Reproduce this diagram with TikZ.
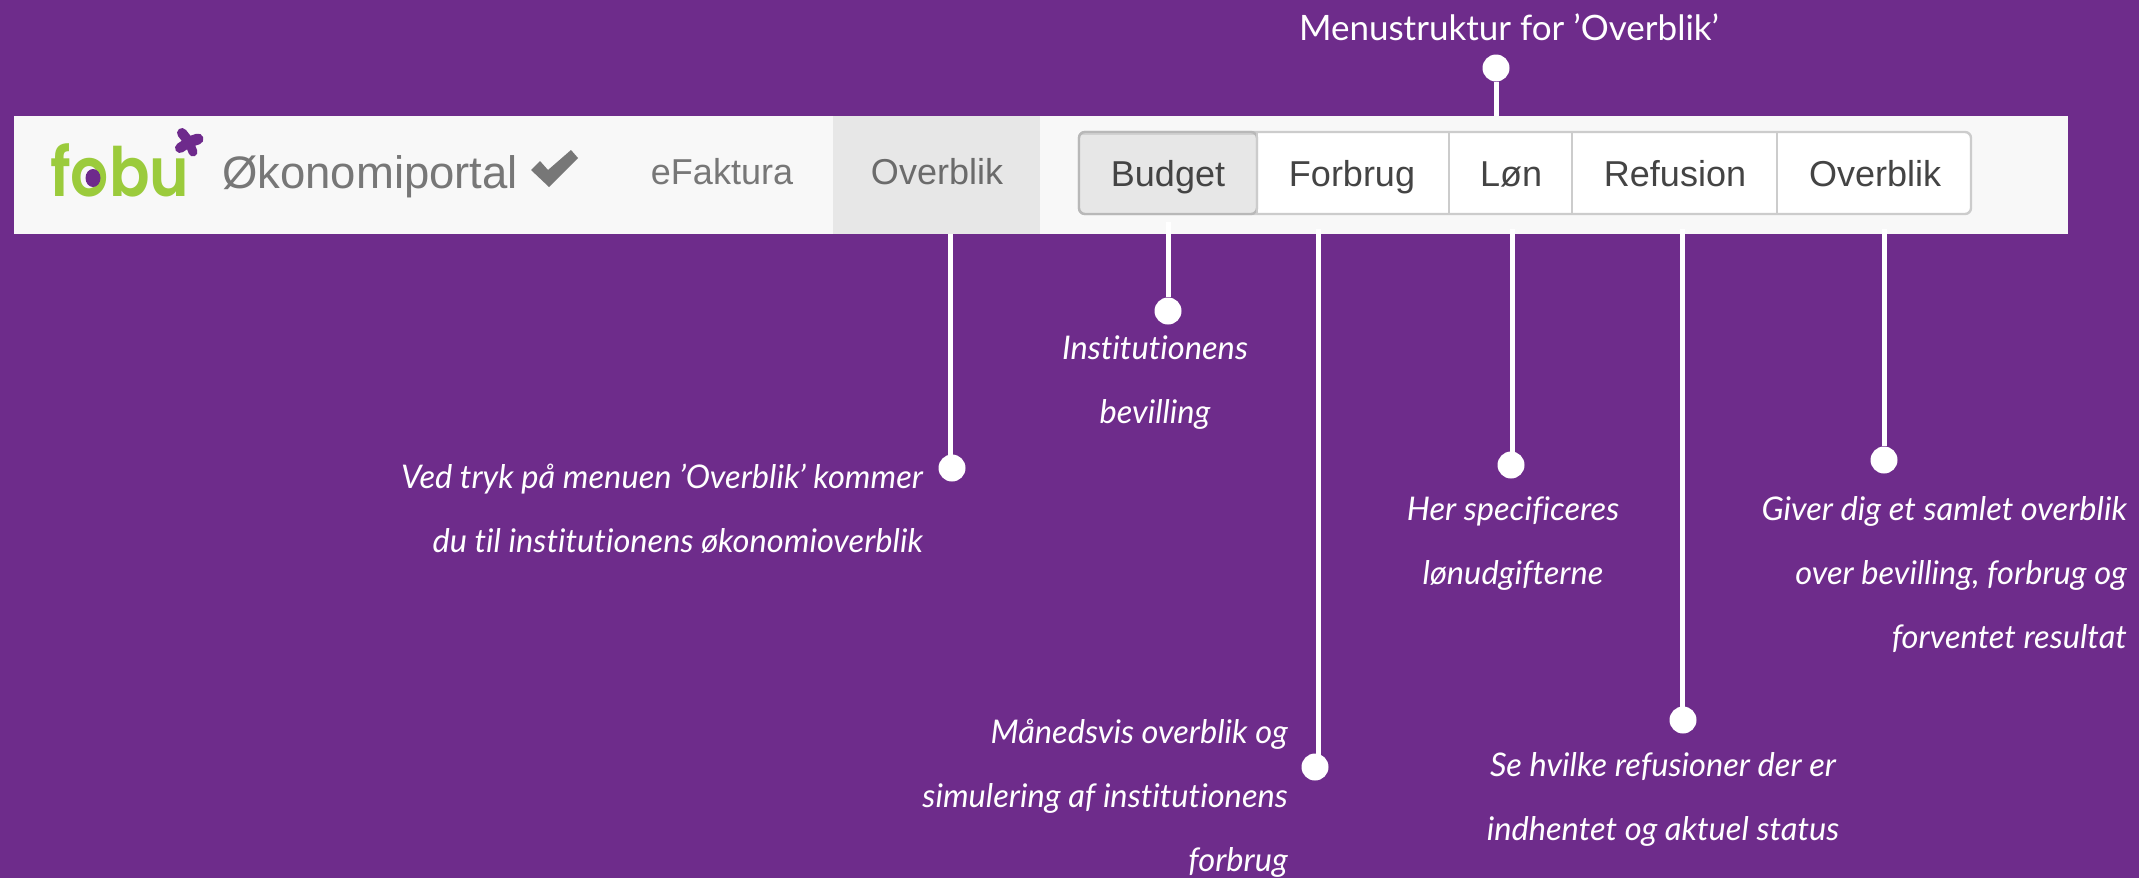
\documentclass[tikz,border=0pt]{standalone}
\usepackage{fontspec}
\setmainfont{Lato}[Ligatures=NoCommon]
\newfontfamily\navfont{Liberation Sans}
\newfontfamily\logofont{Poppins}[UprightFont=* SemiBold,FakeStretch=0.88]
\definecolor{bgpurple}{HTML}{6E2C8B}
\definecolor{barbg}{HTML}{F8F8F8}
\definecolor{navact}{HTML}{E7E7E7}
\definecolor{navgray}{HTML}{777777}
\definecolor{btntext}{HTML}{444444}
\definecolor{btnline}{HTML}{CCCCCC}
\definecolor{fobugreen}{HTML}{9BCB3C}
\definecolor{fobupurple}{HTML}{6E2A8C}
\tikzset{
  x=1pt,y=-1pt,
  callout/.style={inner sep=0pt,text=white,font=\fontsize{32.6}{64}\selectfont\itshape,align=#1},
  dotnode/.style={circle,fill=white,inner sep=0pt,minimum size=27pt},
  leader/.style={draw=white,line width=5pt},
  navtext/.style={inner sep=0pt,font=\navfont\fontsize{36}{36}\selectfont,text=navgray,anchor=base},
  btntxt/.style={inner sep=0pt,font=\navfont\fontsize{36}{36}\selectfont,text=btntext,anchor=base},
  wing/.style={draw=fobupurple,line cap=round,line width=#1},
}
\begin{document}
\begin{tikzpicture}
\useasboundingbox (0,0) rectangle (2139,878);
\fill[bgpurple] (0,0) rectangle (2139,878);
% bar
\fill[barbg] (14,116) rectangle (2068,234);
\fill[navact] (833,116) rectangle (1040,234);
% logo
\node[inner sep=0pt,anchor=base west,text=fobugreen,font=\logofont\fontsize{68}{68}\selectfont] (logo) at (50,196) {fobu};
\fill[fobupurple] (93,178) ellipse [x radius=7.5,y radius=9];
\coordinate (wc) at (189,142);
\draw[wing=10pt] (wc) -- +(-7,-9);
\draw[wing=11pt] (wc) -- +(9,-3);
\draw[wing=10pt] (wc) -- +(-9,6);
\draw[wing=9pt] (wc) -- +(4,10);
\node[navtext,anchor=base west,font=\navfont\fontsize{45.5}{45.5}\selectfont] (brand) at (222,188) {Økonomiportal};
\fill[navgray] (531,170) -- (540,161) -- (548,170) -- (571,150) -- (578,158) -- (549,187) -- cycle;
\node[navtext] (nef) at (722,184) {eFaktura};
\node[navtext,text=navgray!90!black] (nov) at (937,184) {Overblik};
% button group
\path[fill=white,draw=btnline,line width=2.4pt,rounded corners=6pt] (1079,132) rectangle (1971,214);
\begin{scope}
\clip[rounded corners=6pt] (1079,132) rectangle (1971,214);
\fill[navact] (1079,131) rectangle (1257,215);
\fill[black!18] (1079,131) rectangle (1257,135);
\end{scope}
\draw[draw=black!28,line width=2.4pt,rounded corners=6pt] (1257,132) -- (1079,132) -- (1079,214) -- (1257,214) -- cycle;
\foreach \xx in {1257,1449,1572,1777} \draw[btnline,line width=2.4pt] (\xx,132) -- (\xx,214);
\node[btntxt] (bbud) at (1168,186) {Budget};
\node[btntxt] (bfor) at (1352,186) {Forbrug};
\node[btntxt] (blon) at (1511,186) {Løn};
\node[btntxt] (bref) at (1675,186) {Refusion};
\node[btntxt] (bove) at (1875,186) {Overblik};
% anchors on bar
\coordinate (ctop) at (1496,116);
\coordinate (cov) at (950,234);
\coordinate (cbud) at (1168,222);
\coordinate (cfor) at (1318,229);
\coordinate (clon) at (1512,229);
\coordinate (cref) at (1682,229);
\coordinate (cove) at (1884,229);
% dots
\node[dotnode] (dtop) at (1496,68) {};
\node[dotnode] (dov) at (952,468) {};
\node[dotnode] (dbud) at (1168,311) {};
\node[dotnode] (dfor) at (1315,767) {};
\node[dotnode] (dlon) at (1511,465) {};
\node[dotnode] (dref) at (1683,720) {};
\node[dotnode] (dove) at (1884,460) {};
% leaders
\draw[leader] (dtop) -- (ctop);
\draw[leader] (cov) -- (cov |- dov);
\draw[leader] (cbud) -- (dbud);
\draw[leader] (cfor) -- (cfor |- dfor);
\draw[leader] (clon) -- (clon |- dlon);
\draw[leader] (cref) -- (cref |- dref);
\draw[leader] (cove) -- (dove);
% texts
\node[inner sep=0pt,text=white,font=\fontsize{35}{35}\selectfont,anchor=base] (title) at (1509,40) {Menustruktur for ’Overblik’};
\node[callout=center,anchor=base] (tbud) at (1155,423) {Institutionens\\bevilling};
\node[callout=right,anchor=base east] (tov) at (923,552) {Ved tryk på menuen ’Overblik’ kommer\\du til institutionens økonomioverblik};
\node[callout=right,anchor=base east] (tfor) at (1288,871) {Månedsvis overblik og\\simulering af institutionens\\forbrug};
\node[callout=center,anchor=base] (tlon) at (1513,584) {Her specificeres\\lønudgifterne};
\node[callout=right,anchor=base east] (tove) at (2127,648) {Giver dig et samlet overblik\\over bevilling, forbrug og\\forventet resultat};
\node[callout=center,anchor=base] (tref) at (1663,840) {Se hvilke refusioner der er\\indhentet og aktuel status};
\end{tikzpicture}
\end{document}
